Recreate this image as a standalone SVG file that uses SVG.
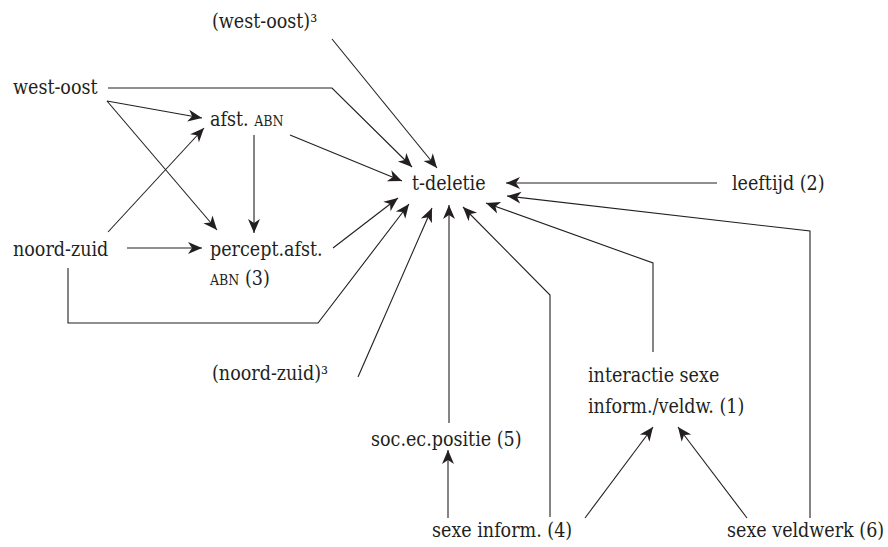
<svg xmlns="http://www.w3.org/2000/svg" width="888" height="547" viewBox="0 0 888 547">
<style>
text{font-family:"DejaVu Serif","Liberation Serif",serif;font-stretch:condensed;font-size:19.5px;fill:#231f20}
.sc{font-size:14px}
.c path{fill:none;stroke:#231f20;stroke-width:1.1}
</style>
<defs>
<marker id="ah" viewBox="-15 -6.5 16 13" refX="0" refY="0" markerWidth="16" markerHeight="13" markerUnits="userSpaceOnUse" orient="auto">
<path d="M0,0 L-14,-6 L-10,0 L-14,6 Z" fill="#231f20"/>
</marker>
</defs>
<rect width="888" height="547" fill="#fff"/>
<g class="c" id="connectors">
<path d="M107,101 L202,118" marker-end="url(#ah)"/>
<path d="M107,101 L217,230" marker-end="url(#ah)"/>
<path d="M108,232 L204,128" marker-end="url(#ah)"/>
<path d="M127,248 L202,248" marker-end="url(#ah)"/>
<path d="M254,135 L254,233" marker-end="url(#ah)"/>
<path d="M290,135 L402,181" marker-end="url(#ah)"/>
<path d="M333,248 L398,198" marker-end="url(#ah)"/>
<path d="M108,88 L332,88 L412,167" marker-end="url(#ah)"/>
<path d="M332,39 L437,168" marker-end="url(#ah)"/>
<path d="M68,268 L68,323 L318,323 L409,204" marker-end="url(#ah)"/>
<path d="M358,377 L432,208" marker-end="url(#ah)"/>
<path d="M449,423 L449,205" marker-end="url(#ah)"/>
<path d="M448,518 L448,450" marker-end="url(#ah)"/>
<path d="M550,517 L550,295 L463,207" marker-end="url(#ah)"/>
<path d="M653,352 L653,263 L486,203" marker-end="url(#ah)"/>
<path d="M810,518 L810,231 L507,196" marker-end="url(#ah)"/>
<path d="M717,183 L506,183" marker-end="url(#ah)"/>
<path d="M585,518 L653,427" marker-end="url(#ah)"/>
<path d="M747,518 L678,427" marker-end="url(#ah)"/>
</g>
<g id="n-westoost3"><text x="212" y="28">(west-oost)³</text></g>
<g id="n-westoost"><text x="13" y="94">west-oost</text></g>
<g id="n-afst"><text x="210" y="126">afst. <tspan class="sc">ABN</tspan></text></g>
<g id="n-tdeletie"><text x="412" y="190">t-deletie</text></g>
<g id="n-leeftijd"><text x="732" y="190">leeftijd (2)</text></g>
<g id="n-noordzuid"><text x="13" y="256">noord-zuid</text></g>
<g id="n-percept"><text x="210" y="256">percept.afst.</text><text x="210" y="285"><tspan class="sc">ABN</tspan> (3)</text></g>
<g id="n-noordzuid3"><text x="212" y="380">(noord-zuid)³</text></g>
<g id="n-interactie"><text x="588" y="382">interactie sexe</text><text x="588" y="413">inform./veldw. (1)</text></g>
<g id="n-socec"><text x="371" y="446">soc.ec.positie (5)</text></g>
<g id="n-sexeinform"><text x="432" y="537">sexe inform. (4)</text></g>
<g id="n-sexeveldwerk"><text x="727" y="537">sexe veldwerk (6)</text></g>
</svg>
